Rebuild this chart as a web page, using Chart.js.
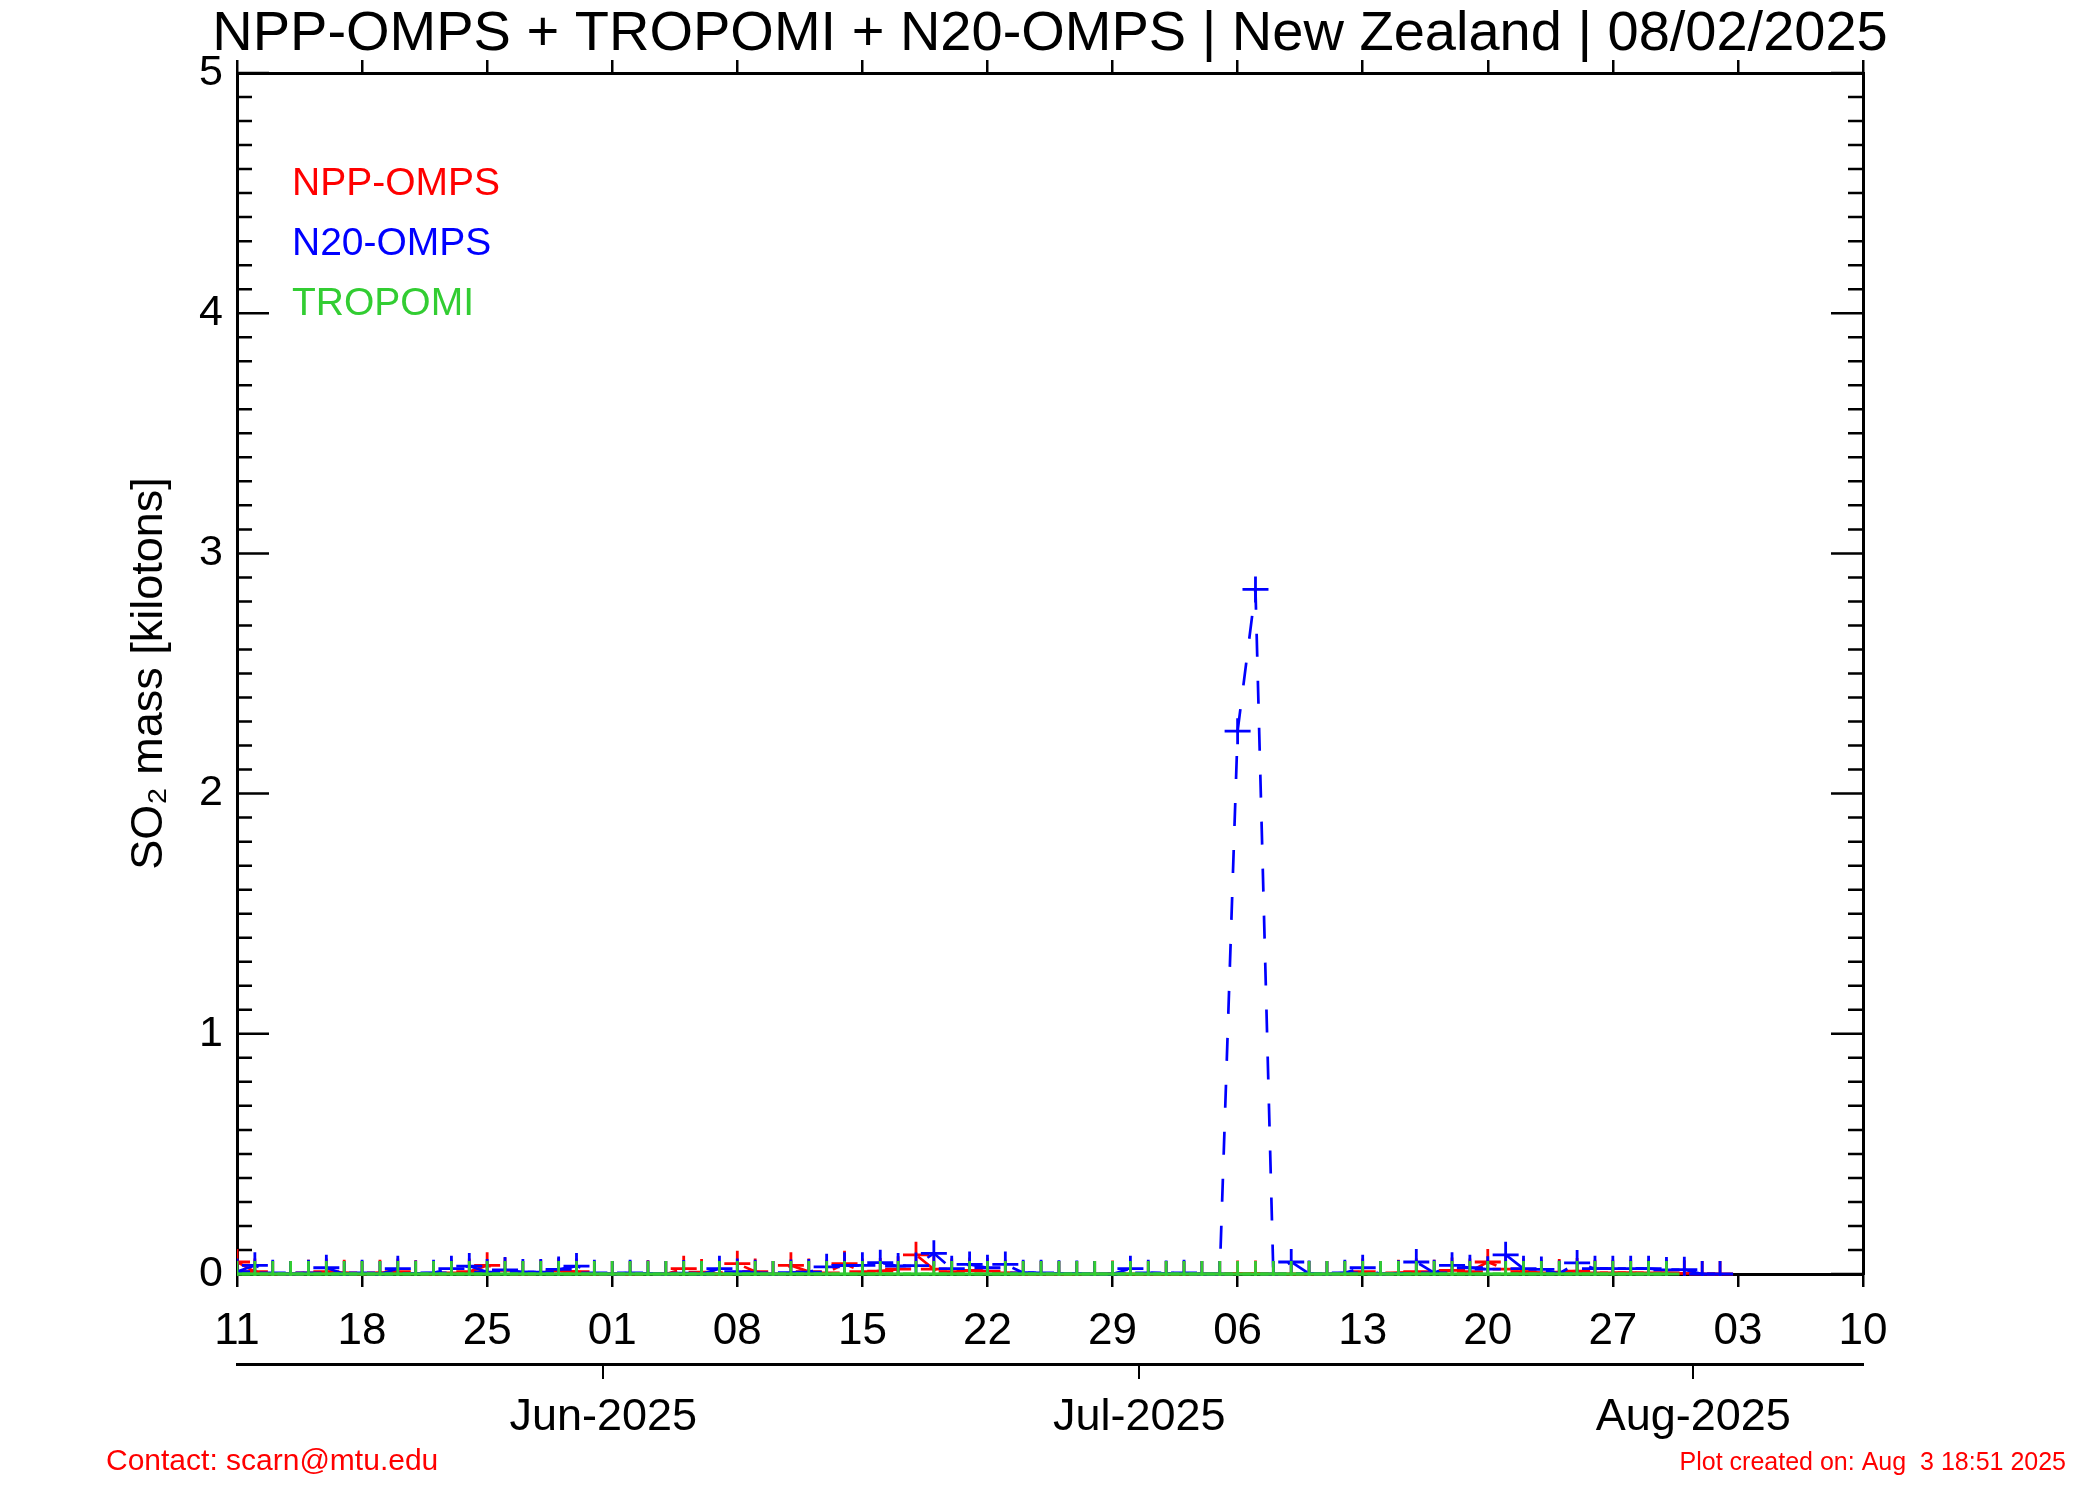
<!DOCTYPE html>
<html>
<head>
<meta charset="utf-8">
<title>SO2 mass - New Zealand</title>
<script src="https://cdn.jsdelivr.net/npm/chart.js@4.4.1/dist/chart.umd.min.js"></script>
<style>
  html, body { margin: 0; padding: 0; background: #fff; }
  #wrap { width: 2100px; height: 1500px; position: relative; }
</style>
</head>
<body>
<div id="wrap"><canvas id="so2Chart"></canvas></div>
<script>
// --- DATA ---
// x = day number counted from 11 May 2025 (0) up to 10 Aug 2025 (91)
const weekTickLabels = ['11', '18', '25', '01', '08', '15', '22', '29', '06', '13', '20', '27', '03', '10'];
const monthLabels = ['Jun-2025', 'Jul-2025', 'Aug-2025'];
const monthTickDays = [20.5, 50.5, 81.5];
const yTickLabels = ['0', '1', '2', '3', '4', '5'];

const seriesNames = ['NPP-OMPS', 'N20-OMPS', 'TROPOMI'];
const seriesColors = ['#ff0000', '#0000ff', '#32cd32'];

// NPP-OMPS, kilotons, one value per day starting 11 May
const nppOmps = [
  0.05, 0.01, 0.0, 0.0, 0.005, 0.01, 0.005, 0.0, 0.005, 0.01,
  0.003, 0.0, 0.005, 0.01, 0.036, 0.015, 0.0, 0.005, 0.012, 0.01,
  0.0, 0.0, 0.0, 0.003, 0.0, 0.022, 0.008, 0.0, 0.043, 0.01,
  0.0, 0.036, 0.01, 0.005, 0.043, 0.01, 0.012, 0.02, 0.08, 0.02,
  0.01, 0.015, 0.012, 0.005, 0.0, 0.0, 0.0, 0.0, 0.0, 0.002,
  0.0, 0.0, 0.0, 0.0, 0.0, 0.0, 0.002, 0.002, 0.0, 0.0,
  0.0, 0.0, 0.0, 0.01, 0.0, 0.005, 0.01, 0.005, 0.015, 0.01,
  0.05, 0.02, 0.01, 0.005, 0.008, 0.012, 0.005, 0.005, 0.005, 0.005,
  0.005, 0.003, 0.0, 0.0
];

// N20-OMPS
const n20Omps = [
  0.01, 0.036, 0.005, 0.0, 0.005, 0.026, 0.0, 0.005, 0.0, 0.022,
  0.002, 0.005, 0.022, 0.033, 0.008, 0.017, 0.008, 0.008, 0.019, 0.033,
  0.005, 0.0, 0.005, 0.002, 0.0, 0.004, 0.0, 0.022, 0.01, 0.005,
  0.0, 0.006, 0.008, 0.03, 0.036, 0.036, 0.047, 0.033, 0.035, 0.086,
  0.022, 0.04, 0.026, 0.04, 0.005, 0.005, 0.003, 0.002, 0.0, 0.0,
  0.022, 0.005, 0.002, 0.005, 0.0, 0.0, 2.26, 2.85, 0.0, 0.05,
  0.002, 0.0, 0.005, 0.026, 0.0, 0.003, 0.05, 0.005, 0.036, 0.026,
  0.02, 0.08, 0.022, 0.019, 0.002, 0.046, 0.022, 0.022, 0.022, 0.022,
  0.017, 0.018, 0.0, 0.0
];

// TROPOMI (flat at zero the whole period)
const tropomi = [
  0, 0, 0, 0, 0, 0, 0, 0, 0, 0,
  0, 0, 0, 0, 0, 0, 0, 0, 0, 0,
  0, 0, 0, 0, 0, 0, 0, 0, 0, 0,
  0, 0, 0, 0, 0, 0, 0, 0, 0, 0,
  0, 0, 0, 0, 0, 0, 0, 0, 0, 0,
  0, 0, 0, 0, 0, 0, 0, 0, 0, 0,
  0, 0, 0, 0, 0, 0, 0, 0, 0, 0,
  0, 0, 0, 0, 0, 0, 0, 0, 0, 0,
  0
];

const titleText = 'NPP-OMPS + TROPOMI + N20-OMPS | New Zealand | 08/02/2025';
const yTitleText = 'SO\u2082 mass [kilotons]';
const contactText = 'Contact: scarn@mtu.edu';
const createdText = 'Plot created on: Aug  3 18:51 2025';

const FONT = '"Liberation Sans", Arial, Helvetica, sans-serif';

function toPoints(vals) {
  return vals.map((v, i) => ({ x: i, y: v }));
}
function isWhole(v) {
  return Math.abs(v - Math.round(v)) < 1e-6;
}

// left/right axis ticks point into the plot, like the IDL original
const inwardTicks = {
  id: 'inwardTicks',
  beforeDatasetsDraw(chart) {
    const { ctx, chartArea, scales } = chart;
    const y = scales.y;
    ctx.save();
    ctx.strokeStyle = '#000';
    ctx.lineWidth = 2.5;
    ctx.beginPath();
    y.ticks.forEach(t => {
      const py = y.getPixelForValue(t.value);
      const len = isWhole(t.value) ? 32 : 15;
      ctx.moveTo(chartArea.left, py);
      ctx.lineTo(chartArea.left + len, py);
      ctx.moveTo(chartArea.right, py);
      ctx.lineTo(chartArea.right - len, py);
    });
    ctx.stroke();
    ctx.restore();
  }
};

// coloured legend words inside the plot + footer lines
const extraText = {
  id: 'extraText',
  afterDraw(chart) {
    const ctx = chart.ctx;
    ctx.save();
    ctx.textBaseline = 'alphabetic';
    ctx.textAlign = 'left';
    ctx.font = '39px ' + FONT;
    seriesNames.forEach((name, i) => {
      ctx.fillStyle = seriesColors[i];
      ctx.fillText(name, 292, 195 + i * 60);
    });
    ctx.fillStyle = '#ff0000';
    ctx.font = '30px ' + FONT;
    ctx.fillText(contactText, 106, 1470);
    ctx.font = '25px ' + FONT;
    ctx.textAlign = 'right';
    ctx.fillText(createdText, 2066, 1470);
    ctx.restore();
  }
};

function lineSet(idx, vals, dashed) {
  return {
    label: seriesNames[idx],
    data: toPoints(vals),
    borderColor: seriesColors[idx],
    backgroundColor: seriesColors[idx],
    borderWidth: 2.7,
    borderDash: dashed ? [23, 24] : [],
    pointStyle: 'cross',
    pointRadius: 13,
    pointBorderWidth: 2.8,
    pointBorderColor: seriesColors[idx],
    tension: 0,
    fill: false,
    clip: { left: 0, top: 0, right: 0, bottom: 2 }
  };
}

const axisBorder = { display: true, color: '#000', width: 3 };

new Chart(document.getElementById('so2Chart'), {
  type: 'line',
  data: {
    // first dataset is painted last (on top): TROPOMI, then N20, then NPP
    datasets: [
      lineSet(2, tropomi, false),
      lineSet(1, n20Omps, true),
      lineSet(0, nppOmps, true)
    ]
  },
  options: {
    responsive: true,
    maintainAspectRatio: false,
    animation: false,
    devicePixelRatio: 1,
    layout: { padding: 0 },
    plugins: {
      legend: { display: false },
      tooltip: { enabled: false },
      title: {
        display: true,
        text: titleText,
        color: '#000',
        font: { family: FONT, size: 56, weight: 'normal', lineHeight: 1 },
        padding: { top: 7, bottom: 0 }
      }
    },
    scales: {
      x: {
        type: 'linear', position: 'bottom', min: 0, max: 91, weight: 0,
        border: axisBorder,
        grid: { drawOnChartArea: false, drawTicks: true, tickLength: 13, color: '#000', lineWidth: 2.5 },
        ticks: {
          stepSize: 7, autoSkip: false, maxRotation: 0, padding: 18, color: '#000',
          font: { family: FONT, size: 44 },
          callback: (v) => weekTickLabels[Math.round(v / 7)]
        },
        afterFit: (s) => { s.height = 90; }
      },
      xm: {
        type: 'linear', position: 'bottom', min: 0, max: 91, weight: 1,
        border: axisBorder,
        grid: { drawOnChartArea: false, drawTicks: true, tickLength: 15, color: '#000', lineWidth: 2 },
        ticks: {
          autoSkip: false, maxRotation: 0, padding: 12, color: '#000',
          font: { family: FONT, size: 45 },
          callback: (v) => monthLabels[monthTickDays.indexOf(v)]
        },
        afterBuildTicks: (s) => { s.ticks = monthTickDays.map(v => ({ value: v })); },
        afterFit: (s) => { s.height = 136; }
      },
      xt: {
        type: 'linear', position: 'top', min: 0, max: 91,
        border: axisBorder,
        grid: { drawOnChartArea: false, drawTicks: true, tickLength: 13, color: '#000', lineWidth: 2.5 },
        ticks: { stepSize: 7, display: false },
        afterFit: (s) => { s.height = 10; }
      },
      y: {
        type: 'linear', position: 'left', min: 0, max: 5,
        border: axisBorder,
        grid: { drawOnChartArea: false, drawTicks: false },
        ticks: {
          stepSize: 0.1, maxTicksLimit: 100, autoSkip: false, padding: 14, color: '#000',
          font: { family: FONT, size: 43 },
          callback: (v) => isWhole(v) ? yTickLabels[Math.round(v)] : ''
        },
        title: {
          display: true, text: yTitleText, color: '#000',
          font: { family: FONT, size: 45 },
          padding: { top: 123, bottom: 0 }
        },
        afterFit: (s) => { s.width = 237; }
      },
      y2: {
        type: 'linear', position: 'right', min: 0, max: 5,
        border: axisBorder,
        grid: { drawOnChartArea: false, drawTicks: false },
        ticks: { display: false },
        afterFit: (s) => { s.width = 237; }
      }
    }
  },
  plugins: [inwardTicks, extraText]
});
</script>
</body>
</html>
